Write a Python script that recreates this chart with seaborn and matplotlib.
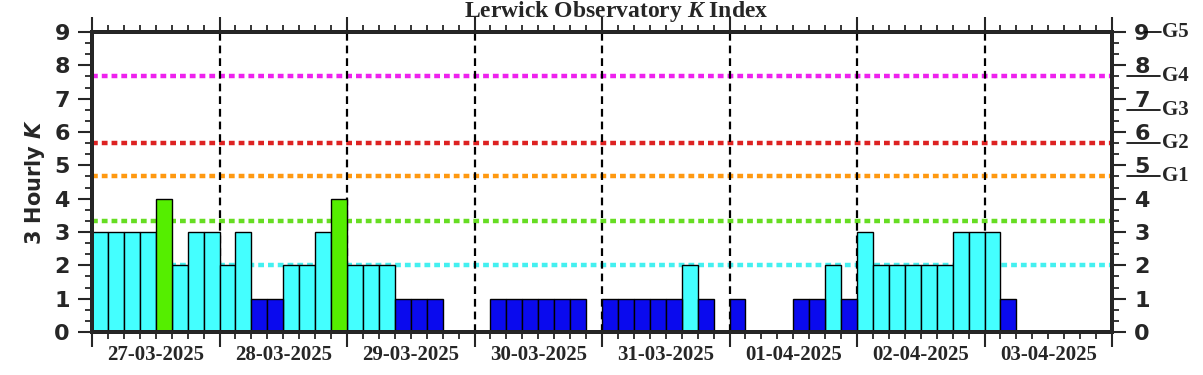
import numpy as np
import pandas as pd
import seaborn as sns
import matplotlib.pyplot as plt
from matplotlib.transforms import blended_transform_factory

# 3-hourly K values, 8 per day
days = ["27-03-2025", "28-03-2025", "29-03-2025", "30-03-2025",
        "31-03-2025", "01-04-2025", "02-04-2025", "03-04-2025"]
k_27 = [3, 3, 3, 3, 4, 2, 3, 3]
k_28 = [2, 3, 1, 1, 2, 2, 3, 4]
k_29 = [2, 2, 2, 1, 1, 1, 0, 0]
k_30 = [0, 1, 1, 1, 1, 1, 1, 0]
k_31 = [1, 1, 1, 1, 1, 2, 1, 0]
k_01 = [1, 0, 0, 0, 1, 1, 2, 1]
k_02 = [3, 2, 2, 2, 2, 2, 3, 3]
k_03 = [3, 1, 0, 0, 0, 0, 0, 0]
k_values = k_27 + k_28 + k_29 + k_30 + k_31 + k_01 + k_02 + k_03

# threshold lines and storm levels
thresh_levels = [2, 3.33, 4.67, 5.67, 7.67]
thresh_colors = ["#44f0f0", "#66dd22", "#ff9911", "#dd2222", "#ee22ee"]
g_levels = [4.67, 5.67, 6.67, 7.67]
g_labels = ["G1", "G2", "G3", "G4"]

def level(k):
    if k <= 1:
        return "quiet"
    if k <= 3:
        return "unsettled"
    return "active"

df = pd.DataFrame({"slot": np.arange(len(k_values)), "K": k_values})
df["level"] = df["K"].apply(level)
palette = {"quiet": "#0a0aee", "unsettled": "#44ffff", "active": "#55ee00"}

sns.set_style("white")
plt.rcParams["mathtext.fontset"] = "custom"
plt.rcParams["mathtext.it"] = "Liberation Serif:italic:bold"
plt.rcParams["mathtext.bfit"] = "DejaVu Sans:italic:bold"

fig = plt.figure(figsize=(12.03, 3.75), dpi=100)
ax = fig.add_axes([92/1203, 43/375, 1020/1203, 300/375])

for lvl, col in zip(thresh_levels, thresh_colors):
    ax.axhline(lvl, color=col, lw=3.2, linestyle=(0, (1.3, 0.9)), dash_capstyle="butt", zorder=1)

n_days = len(days)
for d in range(1, n_days):
    ax.axvline(8*d - 0.5, color="black", lw=1.6, linestyle=(0, (3.5, 2.2)), zorder=1)

sns.barplot(data=df, x="slot", y="K", hue="level", palette=palette, dodge=False,
            width=1.0, edgecolor="black", linewidth=1.0, legend=False, saturation=1,
            order=list(range(len(k_values))), ax=ax, zorder=2)

ax.set_xlim(-0.5, len(k_values) - 0.5)
ax.set_ylim(0, 9)
ax.set_xlabel("")
ax.set_ylabel("3 Hourly $\\mathbfit{K}$", fontsize=15, fontweight="bold", family="DejaVu Sans", labelpad=5)

for s in ax.spines.values():
    s.set_linewidth(2.8)
    s.set_color("black")

# x ticks: days major, 3-hour slots minor, on top and bottom
ax.set_xticks([8*d - 0.5 for d in range(n_days + 1)])
ax.set_xticks(np.arange(len(k_values) + 1) - 0.5, minor=True)
ax.set_xticklabels([])
ax.tick_params(axis="x", which="major", direction="out", length=11, width=1.5, top=True, bottom=True)
ax.tick_params(axis="x", which="minor", direction="out", length=5, width=1.3, top=True, bottom=True)

ax.set_yticks(range(10))
ax.set_yticks(np.arange(0, 9, 1/3), minor=True)
ax.tick_params(axis="y", which="major", direction="out", length=10, width=1.5, labelsize=16, pad=6)
ax.tick_params(axis="y", which="minor", direction="out", length=5, width=1.3)
for lab in ax.get_yticklabels():
    lab.set_fontweight("bold")
    lab.set_family("DejaVu Sans")

trans = blended_transform_factory(ax.transData, ax.transAxes)
for d, name in enumerate(days):
    ax.text(8*d + 3.5, -0.077, name, transform=trans, ha="center", va="center",
            fontsize=15, fontweight="bold", family="Liberation Serif")

ax2 = ax.twinx()
ax2.set_ylim(0, 9)
ax2.set_yticks(range(10))
ax2.set_yticks(np.arange(0, 9, 1/3), minor=True)
ax2.set_yticklabels([str(i) for i in range(10)])
ax2.tick_params(axis="y", which="major", direction="out", length=10, width=1.5, labelsize=16, pad=6)
ax2.tick_params(axis="y", which="minor", direction="out", length=5, width=1.3)
for lab in ax2.get_yticklabels():
    lab.set_fontweight("bold")
    lab.set_family("DejaVu Sans")
for s in ax2.spines.values():
    s.set_linewidth(2.8)

trans2 = blended_transform_factory(ax2.transAxes, ax2.transData)
for g, lab in zip(g_levels, g_labels):
    ax2.plot([1.0147, 1.047], [g, g], color="black", lw=1.2, transform=trans2, clip_on=False)
    ax2.text(1.049, g, lab, transform=trans2, ha="left", va="center",
             fontsize=15, fontweight="bold", family="Liberation Serif")
ax2.plot([1.032, 1.048], [9, 9], color="black", lw=1.2, transform=trans2, clip_on=False)
ax2.text(1.049, 9, "G5", transform=trans2, ha="left", va="center",
         fontsize=15, fontweight="bold", family="Liberation Serif")

fig.text(616.5/1203, 1 - 11/375, "Lerwick Observatory $\\mathit{K}$ Index", ha="center", va="center",
         fontsize=17, fontweight="bold", family="Liberation Serif")

fig.savefig("out.png", dpi=100)
